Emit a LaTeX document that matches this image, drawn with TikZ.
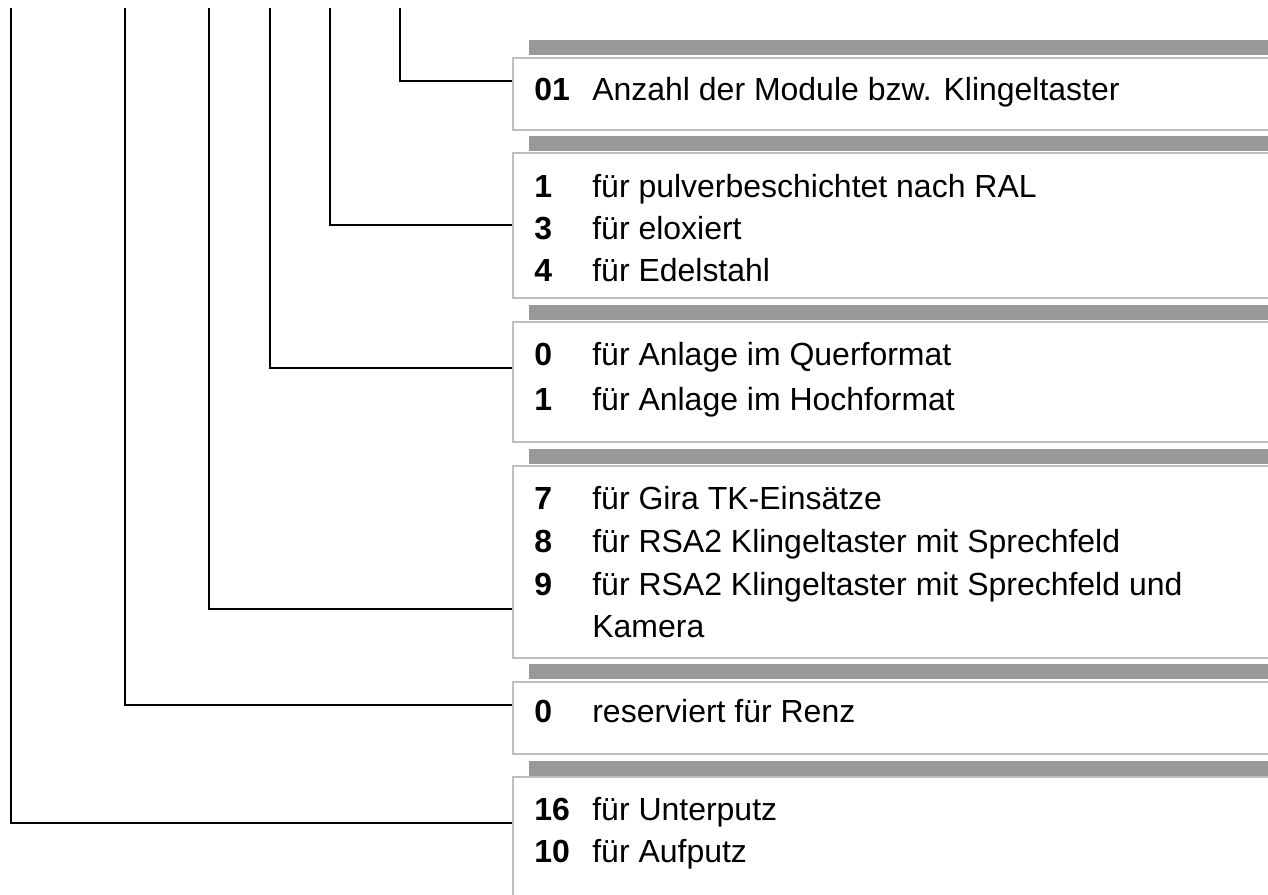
\documentclass[tikz,border=0pt]{standalone}
\usepackage{fontspec}
\setmainfont{Liberation Sans}
\usetikzlibrary{positioning}

\newcommand{\keynum}[1]{\makebox[1.16cm][l]{\textbf{#1}}}

\begin{document}
\begin{tikzpicture}[
        x=0.02cm, y=-0.02cm,
        box/.style={rectangle, draw=black!25, line width=1.1pt, fill=white, anchor=north west, minimum width=16cm, inner sep=0pt},
        bar/.style={rectangle, fill=black!40, anchor=north west, minimum width=16cm, minimum height=0.3cm, inner sep=0pt},
        entry/.style={anchor=base west, inner sep=0pt, font=\fontsize{18.2}{22}\selectfont},
        leader/.style={line width=1.1pt, black}
    ]
    \clip (0,0) rectangle (1268,895);
    \useasboundingbox (0,0) rectangle (1268,895);

    % Shaded bars
    \node[bar] (bar1) at (529,40) {};
    \node[bar] (bar2) at (529,136) {};
    \node[bar] (bar3) at (529,305) {};
    \node[bar] (bar4) at (529,449) {};
    \node[bar] (bar5) at (529,664) {};
    \node[bar] (bar6) at (529,761) {};

    % Boxes
    \node[box, minimum height=1.44cm] (box1) at (512,57) {};
    \node[box, minimum height=2.9cm] (box2) at (512,152) {};
    \node[box, minimum height=2.4cm] (box3) at (512,321) {};
    \node[box, minimum height=3.84cm] (box4) at (512,465) {};
    \node[box, minimum height=1.44cm] (box5) at (512,681) {};
    \node[box, minimum height=4cm] (box6) at (512,776) {};

    % Texts
    \node[entry] (txt1a) at (534,101) {\keynum{01}Anzahl der Module bzw. Klingeltaster};
    \node[entry] (txt2a) at (534,198) {\keynum{1}für pulverbeschichtet nach RAL};
    \node[entry] (txt2b) at (534,240) {\keynum{3}für eloxiert};
    \node[entry] (txt2c) at (534,282) {\keynum{4}für Edelstahl};
    \node[entry] (txt3a) at (534,365) {\keynum{0}für Anlage im Querformat};
    \node[entry] (txt3b) at (534,410) {\keynum{1}für Anlage im Hochformat};
    \node[entry] (txt4a) at (534,509) {\keynum{7}für Gira TK-Einsätze};
    \node[entry] (txt4b) at (534,552) {\keynum{8}für RSA2 Klingeltaster mit Sprechfeld};
    \node[entry] (txt4c) at (534,595) {\keynum{9}für RSA2 Klingeltaster mit Sprechfeld und};
    \node[entry] (txt4d) at (534,637) {\keynum{}Kamera};
    \node[entry] (txt5a) at (534,722) {\keynum{0}reserviert für Renz};
    \node[entry] (txt6a) at (534,820) {\keynum{16}für Unterputz};
    \node[entry] (txt6b) at (534,862) {\keynum{10}für Aufputz};

    % Leader lines
    \coordinate (top1) at (400,8);
    \coordinate (top2) at (330,8);
    \coordinate (top3) at (270,8);
    \coordinate (top4) at (209,8);
    \coordinate (top5) at (125,8);
    \coordinate (top6) at (11,8);
    \coordinate (in1) at (box1.west |- 0,81);
    \coordinate (in2) at (box2.west |- 0,225);
    \coordinate (in3) at (box3.west |- 0,368);
    \coordinate (in4) at (box4.west |- 0,609);
    \coordinate (in5) at (box5.west |- 0,705);
    \coordinate (in6) at (box6.west |- 0,823);
    \draw[leader] (top1) |- (in1);
    \draw[leader] (top2) |- (in2);
    \draw[leader] (top3) |- (in3);
    \draw[leader] (top4) |- (in4);
    \draw[leader] (top5) |- (in5);
    \draw[leader] (top6) |- (in6);

\end{tikzpicture}
\end{document}
